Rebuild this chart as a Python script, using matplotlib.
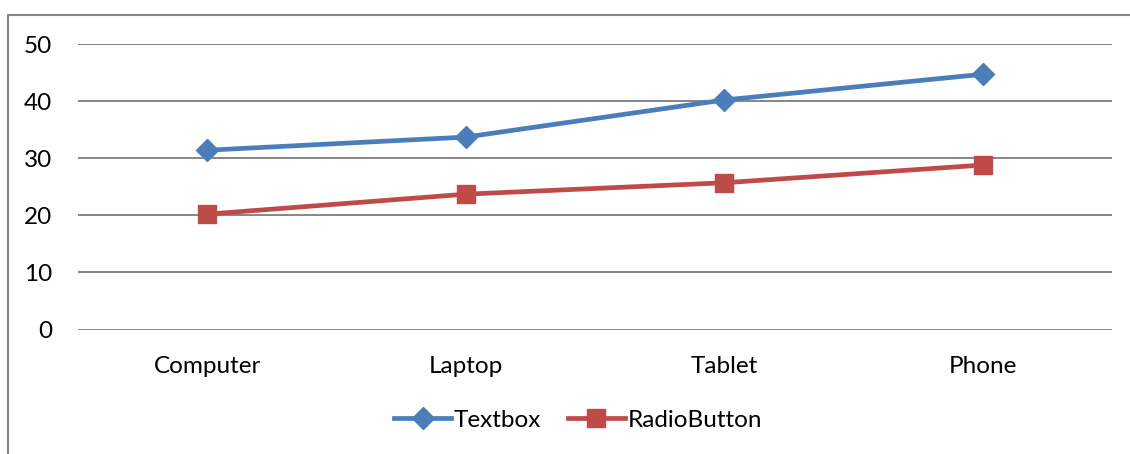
import matplotlib.pyplot as plt
from matplotlib.patches import Rectangle

devices = ["Computer", "Laptop", "Tablet", "Phone"]
textbox = [31.4, 33.7, 40.2, 44.7]
radio_button = [20.2, 23.7, 25.7, 28.8]
y_ticks = [0, 10, 20, 30, 40, 50]

plt.rcParams["font.family"] = ["Lato", "DejaVu Sans"]

W, H = 1130, 454
fig = plt.figure(figsize=(W / 100, H / 100), dpi=100)
# plot area in pixels: x 78..1112, y 44..329.5 (top..bottom)
ax = fig.add_axes([78 / W, 1 - 329.5 / H, (1112 - 78) / W, (329.5 - 44) / H])

grid_col = "#868686"
for y in y_ticks:
    ax.axhline(y, color=grid_col, lw=1.4, zorder=1)

x = range(len(devices))
ax.plot(x, textbox, color="#4A7EBB", lw=3.4, marker="D", ms=11,
        label="Textbox", zorder=3)
ax.plot(x, radio_button, color="#BE4B48", lw=3.4, marker="s", ms=13.5,
        label="RadioButton", zorder=3)

ax.set_xlim(-0.5, 3.5)
ax.set_ylim(0, 50)
ax.set_yticks(y_ticks)
ax.set_xticks(list(x))
ax.set_xticklabels(devices)
ax.tick_params(axis="both", length=0, labelsize=17.5, colors="black")
ax.tick_params(axis="y", pad=18.5)
ax.tick_params(axis="x", pad=19)
for s in ax.spines.values():
    s.set_visible(False)

fig.legend(loc="center", bbox_to_anchor=(578 / W, 1 - 420 / H), ncol=2,
           frameon=False, fontsize=17.5, handlelength=2.35, handletextpad=0.1,
           columnspacing=1.1)

# outer chart border (only left and top edges fall inside the image)
fig.patches.append(Rectangle((8 / W, -0.1), 1.2, 1 - 15 / H + 0.1,
                             transform=fig.transFigure, fill=False,
                             edgecolor=grid_col, lw=1.5))

fig.savefig("out.png", dpi=100)
